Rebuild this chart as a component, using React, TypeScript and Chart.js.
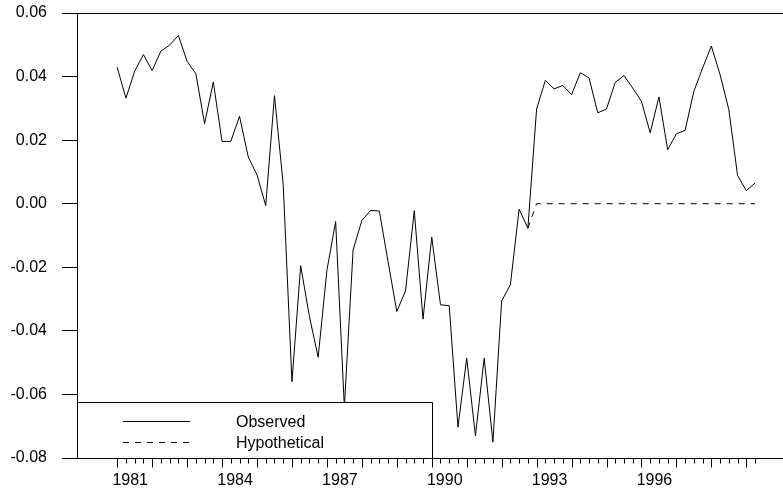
import React, { useEffect, useRef } from "react";
import { Chart, registerables } from "chart.js";

Chart.register(...registerables);

// Quarterly observations, 1981Q1 .. 1999Q2
const startYear = 1981;
const observed: number[] = [
  0.0429, 0.0332, 0.0417, 0.0469, 0.0419, 0.048, 0.0499, 0.0529,
  0.0448, 0.0409, 0.0252, 0.0383,
  0.0196, 0.0196, 0.0275, 0.0147,
  0.0091, -0.0006, 0.034, 0.006,
  -0.056, -0.0195, -0.0355, -0.0483,
  -0.021, -0.0056, -0.064, -0.0145,
  -0.0053, -0.0021, -0.0023, -0.0182,
  -0.0339, -0.0274, -0.0022, -0.0363,
  -0.0105, -0.0318, -0.0321, -0.0703,
  -0.0486, -0.073, -0.0486, -0.075,
  -0.0306, -0.0255, -0.0017, -0.0077,
  0.0298, 0.0388, 0.0361, 0.0372,
  0.0343, 0.0412, 0.0396, 0.0286,
  0.0298, 0.0382, 0.0403, 0.0364,
  0.0322, 0.0223, 0.0336, 0.017,
  0.022, 0.0231, 0.0354, 0.0427,
  0.0496, 0.0406, 0.0296, 0.0089,
  0.0041, 0.0065,
];
const hypothetical: (number | null)[] = [
  null, null, null, null, null, null, null, null,
  null, null, null, null,
  null, null, null, null,
  null, null, null, null,
  null, null, null, null,
  null, null, null, null,
  null, null, null, null,
  null, null, null, null,
  null, null, null, null,
  null, null, null, null,
  null, null, null, -0.0077,
  0, 0, 0, 0,
  0, 0, 0, 0,
  0, 0, 0, 0,
  0, 0, 0, 0,
  0, 0, 0, 0,
  0, 0, 0, 0,
  0, 0,
];
const labelYears: number[] = [1981, 1984, 1987, 1990, 1993, 1996];
const yTicks: number[] = [-0.08, -0.06, -0.04, -0.02, 0, 0.02, 0.04, 0.06];
const seriesNames: string[] = ["Observed", "Hypothetical"];

const quarterX: number[] = observed.map((_, i) => startYear + i / 4);

const FONT = { family: "'Liberation Sans', Arial, Helvetica, sans-serif", size: 16 };

const framePlugin = {
  id: "frame",
  afterDraw(chart: any) {
    const { ctx, chartArea, scales } = chart;
    const xs = scales.x;
    ctx.save();
    ctx.strokeStyle = "#000";
    ctx.lineWidth = 1;
    // top border
    ctx.beginPath();
    ctx.moveTo(chartArea.left, Math.round(chartArea.top) + 0.5);
    ctx.lineTo(chartArea.right, Math.round(chartArea.top) + 0.5);
    ctx.stroke();
    // quarter ticks on x axis
    const base = Math.round(chartArea.bottom) + 0.5;
    quarterX.forEach((v, i) => {
      const px = Math.round(xs.getPixelForValue(v)) + 0.5;
      const len = i % 4 === 0 ? 9 : 5;
      ctx.beginPath();
      ctx.moveTo(px, base);
      ctx.lineTo(px, base + len);
      ctx.stroke();
    });
    // legend box
    const bl = Math.round(chartArea.left) + 0.5;
    const bt = Math.round(chartArea.bottom) - 56 + 0.5;
    const br = Math.round(chartArea.left) + 355 + 0.5;
    const bb = Math.round(chartArea.bottom) + 0.5;
    ctx.fillStyle = "#fff";
    ctx.fillRect(bl + 0.5, bt, br - bl - 1, bb - bt - 0.5);
    ctx.beginPath();
    ctx.moveTo(bl, bt);
    ctx.lineTo(br, bt);
    ctx.lineTo(br, bb);
    ctx.stroke();
    // entries
    const sx0 = chartArea.left + 46;
    const sx1 = chartArea.left + 113;
    const tx = chartArea.left + 159;
    const y1 = Math.round(bt + 18) + 0.5;
    const y2 = Math.round(bt + 39) + 0.5;
    ctx.beginPath();
    ctx.moveTo(sx0, y1);
    ctx.lineTo(sx1, y1);
    ctx.stroke();
    ctx.setLineDash([6, 6]);
    ctx.beginPath();
    ctx.moveTo(sx0, y2);
    ctx.lineTo(sx1, y2);
    ctx.stroke();
    ctx.setLineDash([]);
    ctx.fillStyle = "#000";
    ctx.font = `${FONT.size}px ${FONT.family}`;
    ctx.textAlign = "left";
    ctx.textBaseline = "middle";
    ctx.fillText(seriesNames[0], tx, y1 + 1);
    ctx.fillText(seriesNames[1], tx, y2 + 1);
    ctx.restore();
  },
};

export default function App() {
  const ref = useRef<HTMLCanvasElement | null>(null);
  useEffect(() => {
    if (!ref.current) return;
    const chart = new Chart(ref.current, {
      type: "line",
      data: {
        datasets: [
          {
            label: seriesNames[0],
            data: observed.map((v, i) => ({ x: quarterX[i], y: v })),
            borderColor: "#000",
            borderWidth: 1,
            pointRadius: 0,
            tension: 0,
            fill: false,
          },
          {
            label: seriesNames[1],
            data: hypothetical.map((v, i) => ({ x: quarterX[i], y: v })),
            borderColor: "#000",
            borderWidth: 1,
            borderDash: [6, 6],
            pointRadius: 0,
            tension: 0,
            fill: false,
            spanGaps: false,
          },
        ],
      },
      options: {
        responsive: false,
        animation: false,
        devicePixelRatio: 1,
        layout: { padding: { top: 13, left: 0, right: 0, bottom: 0 } },
        plugins: { legend: { display: false }, tooltip: { enabled: false } },
        scales: {
          x: {
            type: "linear",
            min: 1979.85,
            max: 2000.05,
            afterFit: (s: any) => {
              s.height = 31;
              s.paddingLeft = 0;
              s.paddingRight = 0;
            },
            afterBuildTicks: (s: any) => {
              s.ticks = labelYears.map((v) => ({ value: v }));
            },
            ticks: {
              autoSkip: false,
              maxRotation: 0,
              labelOffset: 13,
              padding: 13,
              color: "#000",
              font: FONT,
              callback: (v: any) => String(v),
            },
            grid: { display: false, drawTicks: false },
            border: { display: true, color: "#000", width: 1 },
          },
          y: {
            type: "linear",
            min: -0.08,
            max: 0.06,
            afterFit: (s: any) => {
              s.width = 77;
              s.paddingTop = 0;
              s.paddingBottom = 0;
            },
            afterBuildTicks: (s: any) => {
              s.ticks = yTicks.map((v) => ({ value: v }));
            },
            ticks: {
              padding: 15,
              color: "#000",
              font: FONT,
              callback: (v: any) => (Math.abs(v) < 1e-9 ? "0.00" : Number(v).toFixed(2)),
            },
            grid: { drawOnChartArea: false, drawTicks: true, tickLength: 15, color: "#000" },
            border: { display: true, color: "#000", width: 1 },
          },
        },
      },
      plugins: [framePlugin],
    });
    return () => chart.destroy();
  }, []);
  return (
    <div style={{ position: "fixed", left: 0, top: 0, width: 783, height: 489, background: "#fff" }}>
      <canvas ref={ref} width={783} height={489} style={{ display: "block" }} />
    </div>
  );
}
